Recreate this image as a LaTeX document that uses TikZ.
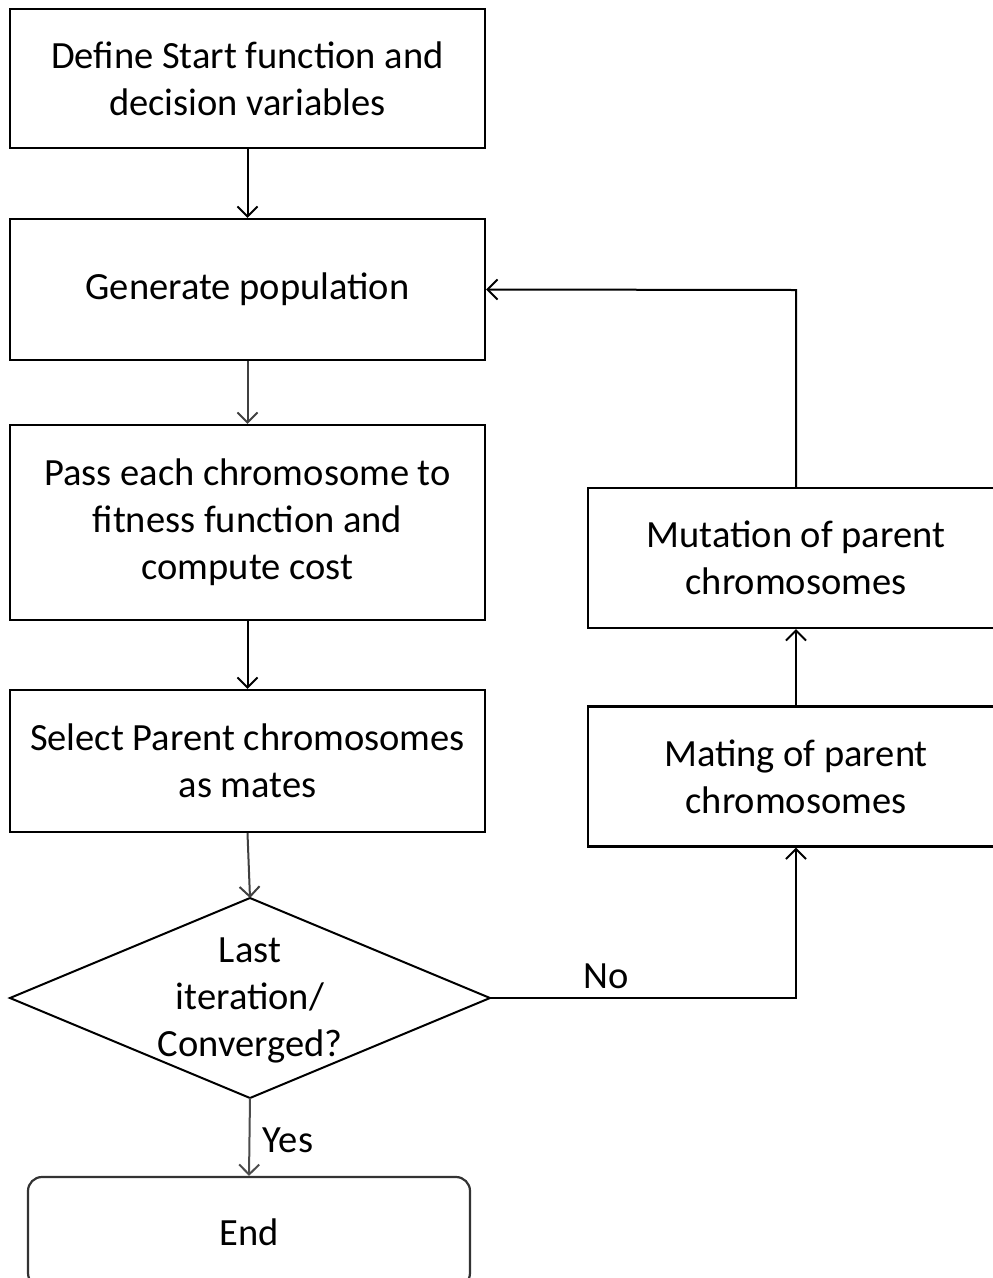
\documentclass[tikz,border=0pt]{standalone}
\usepackage{fontspec}
\setmainfont{Carlito}
\usetikzlibrary{arrows.meta}
\begin{document}
\begin{tikzpicture}[x=1pt,y=-1pt,
  box/.style={draw=black,line width=2.2pt,minimum width=475pt,align=center,inner sep=0pt,
    font=\fontsize{38.5pt}{47pt}\selectfont},
  rbox/.style={box,minimum width=416pt,minimum height=140pt},
  lbl/.style={font=\fontsize{38.5pt}{47pt}\selectfont,inner sep=0pt},
  conn/.style={line width=2pt,-{Straight Barb[length=10pt,width=20pt,line width=2pt]}}
]
\useasboundingbox (0,0) rectangle (993,1278);
\node[box,minimum height=139pt] (b1) at (247.5,78.5) {Define Start function and\\decision variables};
\node[box,minimum height=141pt] (b2) at (247.5,289.5) {Generate population};
\node[box,minimum height=195pt] (b3) at (247.5,522.5) {Pass each chromosome to\\fitness function and\\compute cost};
\node[box,minimum height=142pt] (b4) at (247.5,761) {Select Parent chromosomes\\as mates};
\node[lbl,align=center] (dec) at (250,1000) {Last\\iteration/\\Converged?};
\coordinate (dt) at (250,898);
\coordinate (db) at (250,1098);
\coordinate (dl) at (10,998);
\coordinate (dr) at (490,998);
\draw[line width=2pt,line join=miter] (dt) -- (dr) -- (db) -- (dl) -- cycle;
\node[box,minimum width=442pt,minimum height=110pt,rounded corners=14pt,draw=black!80] (end) at (249,1232) {End};
\node[rbox] (mut) at (796,558) {Mutation of parent\\chromosomes};
\node[rbox] (mat) at (796,776.5) {Mating of parent\\chromosomes};
\coordinate (nc) at (796,998);
\coordinate (lc) at (796,290);
\node[lbl] (no) at (606,976) {No};
\node[lbl] (yes) at (288,1140) {Yes};
\draw[conn] (b1.south) -- (b2.north);
\draw[conn,draw=black!75] (b2.south) -- (b3.north);
\draw[conn] (b3.south) -- (b4.north);
\draw[conn,draw=black!75] (b4.south) -- (dt);
\draw[conn,draw=black!70] (db) -- (end.north);
\draw[conn] (dr) -- (nc) -- (mat.south);
\draw[conn] (mat.north) -- (mut.south);
\draw[conn] (mut.north) -- (lc) -- (b2.east);
\end{tikzpicture}
\end{document}
